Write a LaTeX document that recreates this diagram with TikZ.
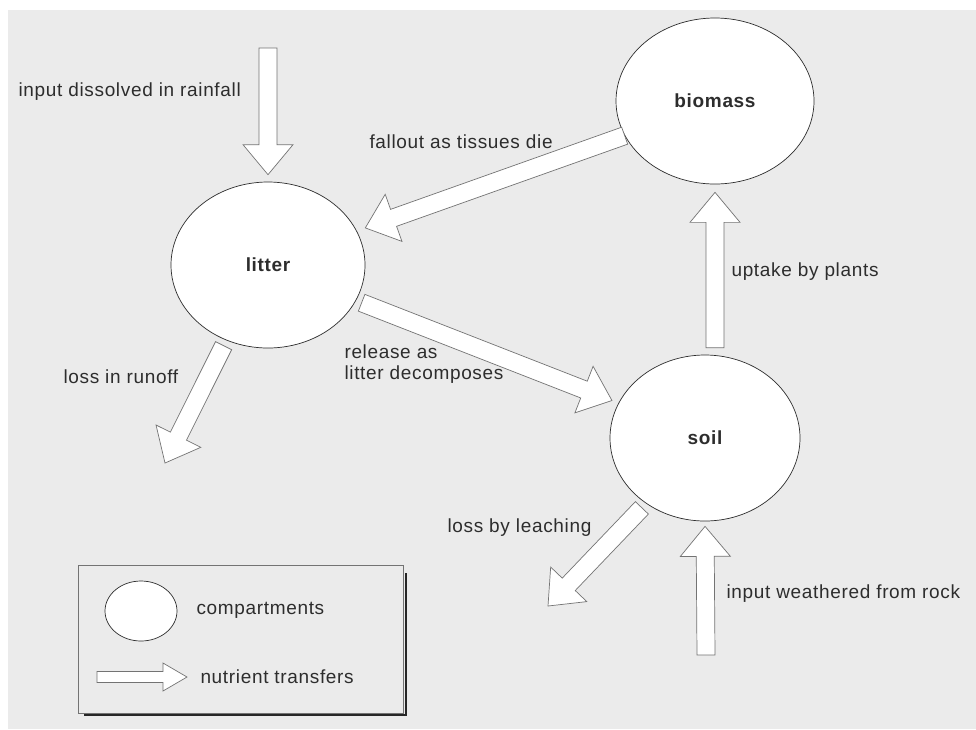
\documentclass[tikz,border=0pt]{standalone}
\usepackage{fontspec}
\setmainfont{Liberation Sans}[LetterSpace=3.5]
\usepackage{tikz}
\usetikzlibrary{shapes,calc,positioning,backgrounds}
\definecolor{paper}{RGB}{235,235,235}
\definecolor{ink}{RGB}{45,45,45}
\definecolor{edge}{RGB}{115,115,115}
\tikzset{
    every node/.style={font=\fontsize{19}{21}\selectfont, text=ink}
}
% sizes of a block arrow (half shaft, half head, head length)
\newcommand{\shaftw}{9pt}
\newcommand{\headw}{25pt}
\newcommand{\headl}{30pt}
% block arrow: from, to, gap at tail, gap at tip
\newcommand{\blockarrow}[4]{%
    \coordinate (ba-t) at ($(#1)!#3!(#2)$);
    \coordinate (ba-h) at ($(#2)!#4!(#1)$);
    \coordinate (ba-b) at ($(ba-h)!\headl!(ba-t)$);
    \draw[flow] ($(ba-t)!\shaftw!90:(ba-h)$) -- ($(ba-b)!\shaftw!90:(ba-h)$)
        -- ($(ba-b)!\headw!90:(ba-h)$) -- (ba-h)
        -- ($(ba-b)!\headw!-90:(ba-h)$) -- ($(ba-b)!\shaftw!-90:(ba-h)$)
        -- ($(ba-t)!\shaftw!-90:(ba-h)$) -- cycle;
}

\begin{document}
\begin{tikzpicture}[x=1pt,y=-1pt]
    % Define styles for compartments and transfers
    \tikzstyle{compartment} = [ellipse, draw=ink, fill=white, line width=0.7pt,
        minimum width=194pt, minimum height=166pt, inner sep=0pt,
        font=\fontsize{19}{21}\selectfont\bfseries]
    \tikzstyle{flow} = [draw=edge, fill=white, line width=0.7pt, line join=miter]

    % Page and paper
    \useasboundingbox (0,0) rectangle (976,729);
    \fill[paper] (8,10) rectangle (976,729);

    % Draw compartments
    \node[compartment] (litter) at (268,265) {litter};
    \node[compartment, minimum width=198pt] (biomass) at (715,101) {biomass};
    \node[compartment, minimum width=190pt] (soil) at (705,438) {soil};

    % Free ends of the transfers
    \coordinate (rain) at (268,48);
    \coordinate (runoff) at (165,463);
    \coordinate (leach) at (548,606);
    \coordinate (rock) at (706,655);
    \coordinate (roots) at (soil.north -| biomass.south);

    % Draw nutrient transfers
    \blockarrow{rain}{litter.north}{0pt}{7pt}
    \blockarrow{biomass.201}{litter.21}{0pt}{9pt}
    \blockarrow{litter.338}{soil.158}{6pt}{7pt}
    \blockarrow{roots}{biomass.south}{7pt}{8pt}
    \blockarrow{litter.241}{runoff}{6pt}{0pt}
    \blockarrow{soil.228}{leach}{6pt}{0pt}
    \blockarrow{rock}{soil.south}{0pt}{5pt}

    % Transfer labels
    \node[anchor=west] (rain-l) at (15,92) {input dissolved in rainfall};
    \node[anchor=west] (fall-l) at (366,142) {fallout as tissues die};
    \node[anchor=west] (uptake-l) at (728,272) {uptake by plants};
    \node[anchor=west, align=left] (release-l) at (341,364) {release as\\litter decomposes};
    \node[anchor=west] (runoff-l) at (60,377) {loss in runoff};
    \node[anchor=west] (leach-l) at (444,528) {loss by leaching};
    \node[anchor=west] (rock-l) at (723,594) {input weathered from rock};

    % Key
    \draw[black!85, line width=2.6pt] (84,715) -- (406,715) -- (406,573);
    \node[draw=edge, fill=paper, line width=0.7pt, minimum width=325pt,
        minimum height=148pt, inner sep=0pt] (key) at (240.5,639) {};
    \node[compartment, minimum width=72pt, minimum height=60pt] (key-c) at (141,611) {};
    \node[anchor=west] (key-cl) at (193,610) {compartments};
    \coordinate (key-a) at (97,677);
    \coordinate (key-b) at (187,677);
    \begin{scope}
        \renewcommand{\shaftw}{5.5pt}
        \renewcommand{\headw}{14pt}
        \renewcommand{\headl}{24pt}
        \blockarrow{key-a}{key-b}{0pt}{0pt}
    \end{scope}
    \node[anchor=west] (key-al) at (197,677) {nutrient transfers};
\end{tikzpicture}
\end{document}
